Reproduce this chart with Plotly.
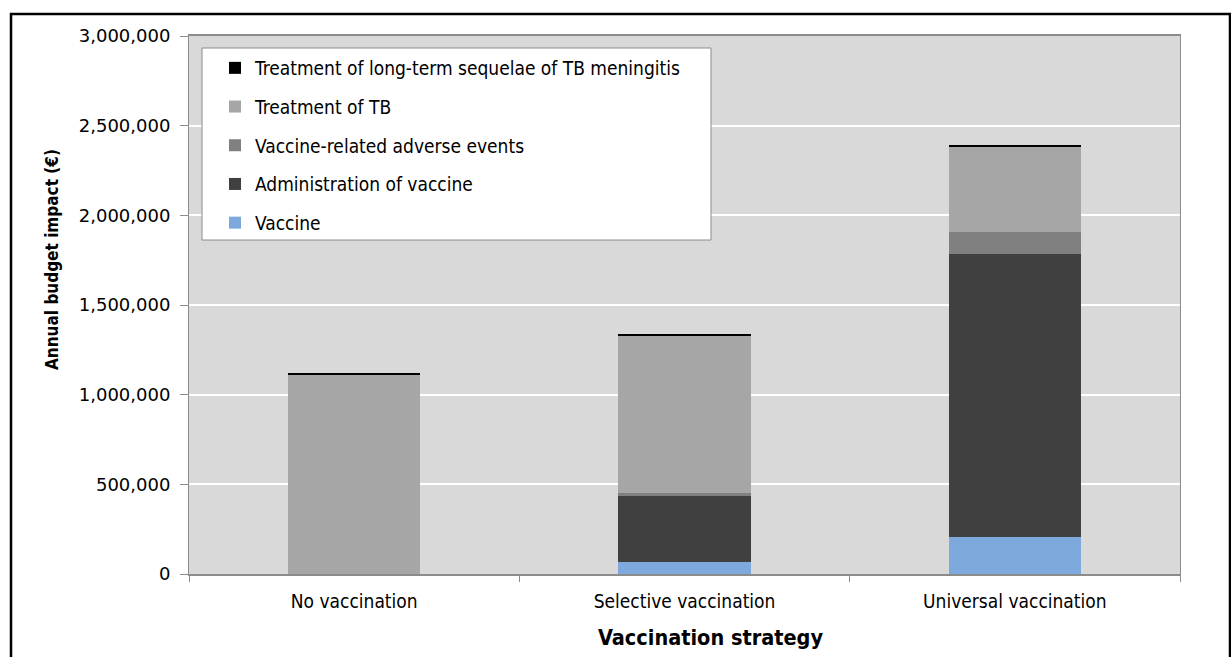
import plotly.graph_objects as go

# Annual budget impact by vaccination strategy (EUR), stacked by cost component
strategies = ["No vaccination", "Selective vaccination", "Universal vaccination"]
vaccine = [0, 65000, 205000]
administration = [0, 371000, 1578000]
adverse_events = [0, 13000, 126000]
tb_treatment = [1114000, 879000, 477000]
meningitis_sequelae = [8000, 6000, 4000]

y_ticks = [0, 500000, 1000000, 1500000, 2000000, 2500000, 3000000]

series = [
    ("Vaccine", vaccine, "#7ea9dd"),
    ("Administration of vaccine", administration, "#404040"),
    ("Vaccine-related adverse events", adverse_events, "#808080"),
    ("Treatment of TB", tb_treatment, "#a6a6a6"),
    ("Treatment of long-term sequelae of TB meningitis", meningitis_sequelae, "#000000"),
]

W, H = 1231, 657
L, R, T, B = 189, 51, 36, 83
pw, ph = W - L - R, H - T - B


def px_x(px):
    return (px - L) / pw


def px_y(py):
    return (H - B - py) / ph


fig = go.Figure()
n = len(series)
for i, (name, vals, color) in enumerate(series):
    fig.add_trace(go.Bar(
        x=strategies, y=vals, name=name,
        marker=dict(color=color, line=dict(width=0)),
        legendgroup=f"g{i}", legendrank=n - i,
    ))

label_font = "DejaVu Sans Condensed, Tahoma, sans-serif"

fig.update_layout(
    width=W, height=H,
    margin=dict(l=L, r=R, t=T, b=B),
    barmode="stack",
    bargap=0.6,
    paper_bgcolor="white",
    plot_bgcolor="#d9d9d9",
    showlegend=True,
    legend=dict(
        x=px_x(215), y=px_y(49), xanchor="left", yanchor="top",
        bgcolor="rgba(0,0,0,0)", borderwidth=0,
        traceorder="grouped", tracegroupgap=11,
        font=dict(family=label_font, size=19, color="black"),
        itemwidth=30,
    ),
    xaxis=dict(
        showline=True, linecolor="#8c8c8c", linewidth=2, mirror=True,
        ticks="outside", tickson="boundaries", ticklen=6, tickcolor="#8c8c8c",
        tickfont=dict(family=label_font, size=19, color="black"),
        ticklabelstandoff=9,
        showgrid=False,
    ),
    yaxis=dict(
        range=[0, 3000000], tickvals=y_ticks,
        tickformat=",d",
        showline=True, linecolor="#8c8c8c", linewidth=1, mirror=True,
        ticks="outside", ticklen=8, tickcolor="#8c8c8c",
        tickfont=dict(family="DejaVu Sans, Verdana, sans-serif", size=18, color="black"),
        ticklabelstandoff=6,
        showgrid=True, gridcolor="white", gridwidth=2,
        zeroline=False,
    ),
    shapes=[
        # legend box
        dict(type="rect", xref="paper", yref="paper",
             x0=px_x(202), x1=px_x(711), y0=px_y(240), y1=px_y(48),
             fillcolor="white", line=dict(color="#8c8c8c", width=1), layer="above"),
        # outer frame
        dict(type="rect", xref="paper", yref="paper",
             x0=px_x(11), x1=px_x(1230), y0=px_y(700), y1=px_y(14),
             line=dict(color="black", width=2.5), layer="above"),
    ],
    annotations=[
        dict(text="<b>Annual budget impact (€)</b>", textangle=-90,
             xref="paper", yref="paper", x=px_x(52), y=px_y(260),
             showarrow=False, xanchor="center", yanchor="middle",
             font=dict(family=label_font, size=17, color="black")),
        dict(text="<b>Vaccination strategy</b>",
             xref="paper", yref="paper", x=px_x(710), y=px_y(637),
             showarrow=False, xanchor="center", yanchor="middle",
             font=dict(family=label_font, size=21.5, color="black")),
    ],
)

fig.write_html("out.html")
